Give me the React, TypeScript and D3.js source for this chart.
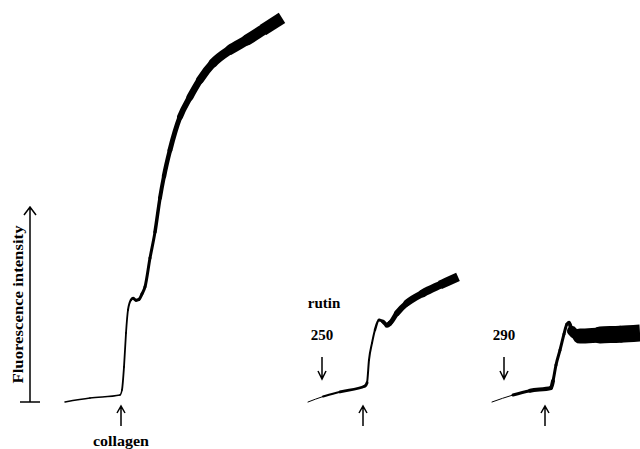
import React, { useRef, useEffect } from "react";
import * as d3 from "d3";

// control trace: collagen only (time in s, fluorescence in a.u.)
const ctrlTime = [0, 25, 55, 57, 59, 61, 63, 66, 68, 71, 74, 77, 80, 85, 90, 95, 99, 105, 115, 125, 135, 148, 165, 182, 198, 217];
const ctrlSignal = [0, 1.0, 1.8, 3.1, 9.0, 17.7, 23.6, 26.2, 26.6, 26.1, 26.3, 27.7, 29.5, 36.9, 43.6, 52.3, 57.9, 64.6, 73.1, 78.2, 82.6, 86.9, 90.3, 92.8, 95.4, 98.5];
const ctrlNoise = [1.5, 1.5, 1.6, 1.8, 1.8, 1.8, 2, 2.5, 3, 3, 3, 3, 3, 3, 3.5, 4, 4.5, 5, 6, 7, 8, 9, 10, 11, 12, 13];

// rutin 250 pretreatment
const r250Time = [0, 15, 32, 57, 59, 61, 64, 67, 71, 75, 79, 82, 89, 99, 115, 132, 150];
const r250Signal = [0, 1.4, 2.6, 4.1, 4.9, 10.8, 15.1, 18.5, 21.0, 20.6, 19.7, 20.2, 22.8, 25.4, 27.9, 30.0, 32.1];
const r250Noise = [1, 2, 3, 4, 3, 2, 2, 2.5, 3, 4, 5, 5, 6, 7, 8, 9, 10];

// rutin 290 pretreatment
const r290Time = [0, 21, 38, 59, 61, 64, 68, 72, 75, 77, 80, 88, 108, 128, 148];
const r290Signal = [0, 1.8, 2.9, 3.6, 5.4, 9.5, 13.3, 17.4, 20.0, 20.3, 18.2, 16.9, 17.2, 17.4, 17.7];
const r290Noise = [1, 3, 4, 5, 4, 3, 3, 3, 3, 4, 10, 15, 17, 17, 17];

// events
const collagenAt = [56, 55, 53];
const rutinAt = [null, 14, 12];
const rutinDose = ["", "250", "290"];
const scaleBar = 50;

const panels = [
  { time: ctrlTime, signal: ctrlSignal, noise: ctrlNoise, x0: 65 },
  { time: r250Time, signal: r250Signal, noise: r250Noise, x0: 308 },
  { time: r290Time, signal: r290Signal, noise: r290Noise, x0: 492 },
];

const FONT = "'Liberation Serif', 'Times New Roman', serif";

// collects each curve piece of a d3.line as its own path string
const segmentRecorder = () => {
  const segs: string[] = [];
  let cx = 0;
  let cy = 0;
  const ctx = {
    moveTo(x: number, y: number) {
      cx = x;
      cy = y;
    },
    lineTo(x: number, y: number) {
      segs.push(`M${cx},${cy}L${x},${y}`);
      cx = x;
      cy = y;
    },
    bezierCurveTo(a: number, b: number, c: number, d: number, x: number, y: number) {
      segs.push(`M${cx},${cy}C${a},${b},${c},${d},${x},${y}`);
      cx = x;
      cy = y;
    },
    closePath() {},
  };
  return { segs, ctx };
};

const App = () => {
  const ref = useRef<SVGSVGElement>(null);

  useEffect(() => {
    const svg = d3.select(ref.current);
    svg.selectAll("*").remove();

    const y = d3.scaleLinear().domain([0, 100]).range([402, 12]);

    const arrow = (x: number, yTail: number, yTip: number, hw: number, hh: number) => {
      const dir = yTip < yTail ? 1 : -1;
      svg
        .append("path")
        .attr("d", `M${x},${yTail}L${x},${yTip}M${x - hw},${yTip + dir * hh}L${x},${yTip}L${x + hw},${yTip + dir * hh}`)
        .attr("fill", "none")
        .attr("stroke", "#000")
        .attr("stroke-width", 1.5);
    };

    // intensity scale bar
    arrow(30, y(0), y(scaleBar), 6, 8);
    svg
      .append("line")
      .attr("x1", 20)
      .attr("x2", 40)
      .attr("y1", y(0))
      .attr("y2", y(0))
      .attr("stroke", "#000")
      .attr("stroke-width", 1.5);
    svg
      .append("text")
      .attr("transform", `translate(23,${(y(0) + y(scaleBar)) / 2}) rotate(-90)`)
      .attr("text-anchor", "middle")
      .attr("font-family", FONT)
      .attr("font-weight", "bold")
      .attr("font-size", 15)
      .attr("textLength", 158)
      .attr("lengthAdjust", "spacingAndGlyphs")
      .text("Fluorescence intensity");

    panels.forEach((p, k) => {
      const tMax = d3.max(p.time) as number;
      const x = d3.scaleLinear().domain([0, tMax]).range([p.x0, p.x0 + tMax]);

      const { segs, ctx } = segmentRecorder();
      d3.line<number>()
        .x((i) => x(p.time[i]))
        .y((i) => y(p.signal[i]))
        .curve(d3.curveMonotoneX)
        .context(ctx as any)(d3.range(p.time.length));

      const g = svg.append("g");
      segs.forEach((d, i) => {
        g.append("path")
          .attr("d", d)
          .attr("fill", "none")
          .attr("stroke", "#000")
          .attr("stroke-linecap", i === segs.length - 1 ? "butt" : "round")
          .attr("stroke-width", Math.min(p.noise[i], p.noise[i + 1]));
      });

      // collagen addition
      arrow(x(collagenAt[k]), 426, 406, 4, 7);

      const r = rutinAt[k];
      if (r !== null) {
        arrow(x(r), 357, 379, 4, 8);
        g.append("text")
          .attr("x", x(r))
          .attr("y", 340)
          .attr("text-anchor", "middle")
          .attr("font-family", FONT)
          .attr("font-weight", "bold")
          .attr("font-size", 15)
          .text(rutinDose[k]);
      }
      if (k === 1) {
        g.append("text")
          .attr("x", x(r as number) + 2)
          .attr("y", 307.5)
          .attr("text-anchor", "middle")
          .attr("font-family", FONT)
          .attr("font-weight", "bold")
          .attr("font-size", 15)
          .text("rutin");
      }
      if (k === 0) {
        g.append("text")
          .attr("x", x(collagenAt[k]))
          .attr("y", 445.5)
          .attr("text-anchor", "middle")
          .attr("font-family", FONT)
          .attr("font-weight", "bold")
          .attr("font-size", 15)
          .attr("textLength", 56)
          .attr("lengthAdjust", "spacingAndGlyphs")
          .text("collagen");
      }
    });
  }, []);

  return (
    <svg
      ref={ref}
      width={640}
      height={449}
      style={{ position: "absolute", left: 0, top: 0, background: "#fff" }}
    ></svg>
  );
};

export default App;
